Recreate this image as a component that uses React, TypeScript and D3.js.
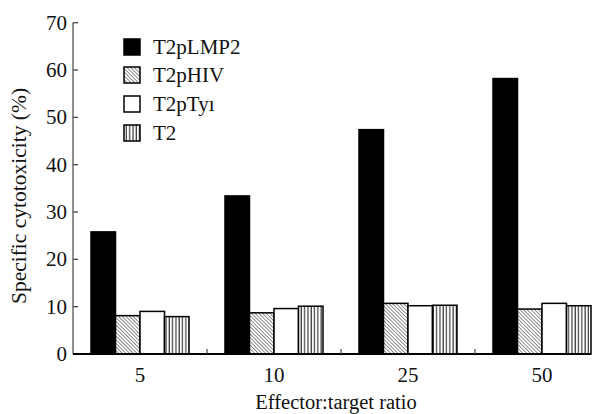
import React from "react";
import * as d3 from "d3";

const categories = ["5", "10", "25", "50"];
const seriesNames = ["T2pLMP2", "T2pHIV", "T2pTy\u0131", "T2"];
const lmp2 = [25.8, 33.4, 47.4, 58.2];
const hiv = [8.1, 8.7, 10.7, 9.5];
const tyr = [9.0, 9.6, 10.2, 10.7];
const t2 = [7.9, 10.1, 10.3, 10.2];
const yTicks = [0, 10, 20, 30, 40, 50, 60, 70];

const seriesValues = [lmp2, hiv, tyr, t2];
const fills = ["#000", "url(#hatch)", "#fff", "url(#vlines)"];

export default function App() {
  const W = 601, H = 414;
  const x0 = 73, yBase = 354, yTop = 22.7;
  const y = d3.scaleLinear().domain([0, 70]).range([yBase, yTop]);
  const x = d3.scaleBand().domain(categories).range([x0, x0 + 134 * 4]).padding(0);
  const groupW = 98;
  const x1 = d3.scaleBand().domain(seriesNames).range([0, groupW]).padding(0);
  const off = (x.bandwidth() - groupW) / 2;
  const ff = "Liberation Serif";
  const legendY = [39, 67, 96, 125];

  return (
    <svg width={W - 8} height={H - 8}>
      <style>{`text { font-family: "Liberation Serif", "Tinos", "Times New Roman", serif; }`}</style>
      <defs>
        <pattern id="hatch" width="2.6" height="2.6" patternUnits="userSpaceOnUse" patternTransform="rotate(-45)">
          <rect width="2.6" height="2.6" fill="#fff" />
          <line x1="0" y1="0" x2="0" y2="2.6" stroke="#333" strokeWidth="1.1" />
        </pattern>
        <pattern id="vlines" width="3.3" height="4" patternUnits="userSpaceOnUse">
          <rect width="3.3" height="4" fill="#fff" />
          <line x1="1" y1="0" x2="1" y2="4" stroke="#111" strokeWidth="1" />
        </pattern>
      </defs>
      <g transform="translate(-8,-8)">
        <rect width={W} height={H} fill="#fff" />
        {categories.map((c, ci) =>
          seriesNames.map((s, si) => {
            const v = seriesValues[si][ci];
            const bx = (x(c) as number) + off + (x1(s) as number);
            return (
              <rect
                key={c + s}
                x={bx}
                y={y(v)}
                width={x1.bandwidth()}
                height={yBase - y(v)}
                fill={fills[si]}
                stroke="#000"
                strokeWidth={1.5}
              />
            );
          })
        )}
        <line x1={x0} x2={x0} y1={yTop} y2={yBase} stroke="#555" strokeWidth={1.3} />
        {yTicks.map((t) => (
          <g key={t}>
            <line x1={x0} x2={x0 + 5} y1={y(t)} y2={y(t)} stroke="#444" strokeWidth={1.3} />
            <text x={x0 - 6} y={y(t)} dy="0.33em" textAnchor="end" fontSize={21} fill="#111" fontFamily={ff}>
              {t}
            </text>
          </g>
        ))}
        <line x1={x0} x2={591} y1={yBase} y2={yBase} stroke="#000" strokeWidth={2} />
        {categories.slice(1).map((c) => (
          <line key={c} x1={x(c) as number} x2={x(c) as number} y1={yBase} y2={yBase - 5} stroke="#444" strokeWidth={1.2} />
        ))}
        {categories.map((c) => (
          <text key={c} x={(x(c) as number) + x.bandwidth() / 2} y={382} textAnchor="middle" fontSize={21} fill="#111" fontFamily={ff}>
            {c}
          </text>
        ))}
        <text x={336} y={409} textAnchor="middle" fontSize={20.5} fill="#111" fontFamily={ff}>
          Effector:target ratio
        </text>
        <text transform={`translate(26,196) rotate(-90)`} textAnchor="middle" fontSize={21.5} fill="#111" fontFamily={ff}>
          Specific cytotoxicity (%)
        </text>
        {seriesNames.map((s, i) => (
          <g key={s}>
            <rect x={124} y={legendY[i]} width={16} height={16} fill={fills[i]} stroke="#000" strokeWidth={1.5} />
            <text x={153} y={legendY[i] + 14.5} fontSize={21} fill="#111" fontFamily={ff}>
              {s}
            </text>
          </g>
        ))}
      </g>
    </svg>
  );
}
